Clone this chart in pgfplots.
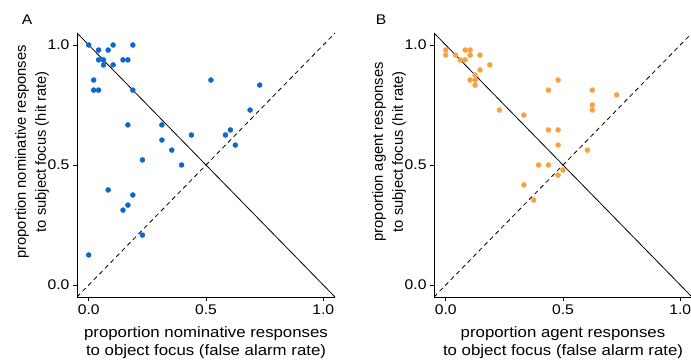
\documentclass[border=0pt]{standalone}
\usepackage{pgfplots}
\pgfplotsset{compat=1.18}
\usepackage{fontspec}
\setmainfont{Liberation Sans}
\newfontfamily\widefont[FakeStretch=1.12]{Liberation Sans}
\definecolor{ptblue}{RGB}{12,104,206}
\definecolor{ptorange}{RGB}{250,160,60}
\pgfplotsset{
  panel/.style={
    scale only axis, width=258pt, height=264pt,
    xmin=-0.05, xmax=1.05, ymin=-0.05, ymax=1.05,
    axis x line*=bottom, axis y line*=left,
    xtick={0,0.5,1}, ytick={0,0.5,1},
    xticklabels={0.0,0.5,1.0}, yticklabels={0.0,0.5,1.0},
    tick align=outside, major tick length=4pt,
    tick style={black, line width=0.6pt},
    axis line style={black, line width=0.8pt},
    ticklabel style={font=\widefont\fontsize{14}{16}\selectfont},
    xlabel style={font=\widefont\fontsize{15}{18}\selectfont, align=center,
      at={(axis description cs:0.5,-0.174)}, anchor=center},
    ylabel style={font=\fontsize{14.7}{20}\selectfont, align=center,
      at={(axis description cs:-0.174,0.55)}, anchor=center},
    clip=true,
    /pgf/number format/assume math mode=true,
  },
  diag/.style={black, line width=0.8pt, no marks},
  ddiag/.style={black, line width=0.8pt, no marks, dash pattern=on 4.5pt off 3.5pt},
}
\begin{document}
\begin{tikzpicture}[x=1pt,y=1pt]
\path[use as bounding box] (0,0) rectangle (691,361);
\node[font=\widefont\fontsize{14}{16}\selectfont] at (27,341) {A};
\node[font=\widefont\fontsize{14}{16}\selectfont] at (381,341) {B};
\begin{axis}[panel, at={(77pt,64pt)}, anchor=south west,
  xlabel={proportion nominative responses\\to object focus (false alarm rate)},
  ylabel={proportion nominative responses\\to subject focus (hit rate)}]
\addplot[diag] coordinates {(-0.05,1.05) (1.05,-0.05)};
\addplot[ddiag] coordinates {(-0.05,-0.05) (1.05,1.05)};
\addplot[only marks, mark=*, mark size=2.5pt, ptblue, mark options={draw=ptblue, fill=ptblue}] coordinates {
(0,1.0) (0.042,0.979) (0.104,1.0) (0.188,1.0) (0.083,0.979)
(0.042,0.938) (0.063,0.938) (0.063,0.917) (0.104,0.917) (0.146,0.938) (0.167,0.938)
(0.021,0.854) (0.021,0.812) (0.042,0.812) (0.188,0.812)
(0.521,0.854) (0.729,0.833) (0.688,0.729)
(0.167,0.667) (0.312,0.667) (0.312,0.604) (0.438,0.625) (0.354,0.562) (0.396,0.5) (0.229,0.521)
(0.583,0.625) (0.604,0.646) (0.625,0.583)
(0.083,0.396) (0.188,0.375) (0.167,0.333) (0.146,0.312) (0.229,0.208) (0,0.125)
};
\end{axis}
\begin{axis}[panel, at={(434pt,64pt)}, anchor=south west,
  xlabel={proportion agent responses\\to object focus (false alarm rate)},
  ylabel={proportion agent responses\\to subject focus (hit rate)}]
\addplot[diag] coordinates {(-0.05,1.05) (1.05,-0.05)};
\addplot[ddiag] coordinates {(-0.05,-0.05) (1.05,1.05)};
\addplot[only marks, mark=*, mark size=2.5pt, ptorange, mark options={draw=ptorange, fill=ptorange}] coordinates {
(0,0.979) (0,0.958) (0.042,0.958) (0.062,0.938) (0.083,0.938) (0.083,0.979) (0.104,0.979) (0.104,0.958)
(0.146,0.958) (0.188,0.917) (0.146,0.896) (0.125,0.875) (0.104,0.854) (0.125,0.854) (0.125,0.833)
(0.229,0.729) (0.333,0.708) (0.438,0.812) (0.479,0.854) (0.625,0.812) (0.729,0.792)
(0.625,0.75) (0.625,0.729) (0.438,0.646) (0.479,0.646) (0.479,0.583) (0.604,0.562)
(0.396,0.5) (0.438,0.5) (0.5,0.479) (0.479,0.458) (0.333,0.417) (0.375,0.354)
};
\end{axis}
\end{tikzpicture}
\end{document}
